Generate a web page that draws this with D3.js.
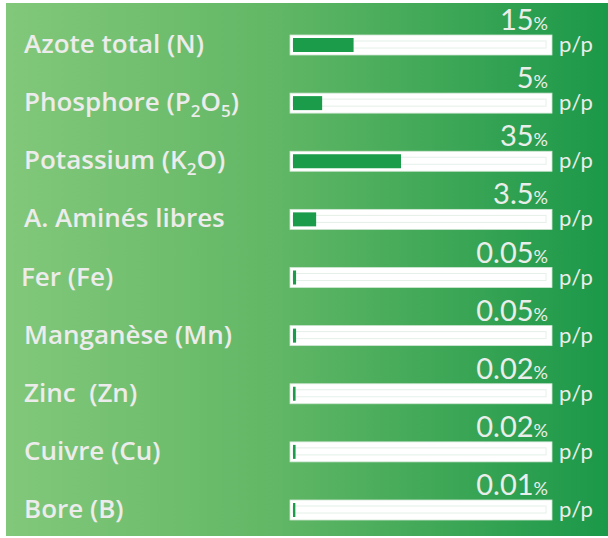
<!DOCTYPE html>
<html>
<head>
<meta charset="utf-8">
<script src="https://cdn.jsdelivr.net/npm/d3@7"></script>
<style>
  body { margin: 0; background: #fff; }
  svg { display: block; }
  text { white-space: pre; }
</style>
</head>
<body>
<svg id="chart" width="608" height="538"></svg>
<script>
// nutrient names, subscripts written as one-item arrays
const labels = [
  ['Azote total (N)'],
  ['Phosphore (P', ['2'], 'O', ['5'], ')'],
  ['Potassium (K', ['2'], 'O)'],
  ['A. Aminés libres'],
  ['Fer (Fe)'],
  ['Manganèse (Mn)'],
  ['Zinc  (Zn)'],
  ['Cuivre (Cu)'],
  ['Bore (B)']
];
const values = [15, 5, 35, 3.5, 0.05, 0.05, 0.02, 0.02, 0.01];
const valueText = ['15', '5', '35', '3.5', '0.05', '0.05', '0.02', '0.02', '0.01'];
const unit = 'p/p';

const svg = d3.select('#chart');
const W = 608;

// background gradient
const defs = svg.append('defs');
const grad = defs.append('linearGradient').attr('id', 'bg').attr('x1', '0%').attr('x2', '100%');
grad.append('stop').attr('offset', '0%').attr('stop-color', '#82c87a');
grad.append('stop').attr('offset', '45%').attr('stop-color', '#61b765');
grad.append('stop').attr('offset', '100%').attr('stop-color', '#1b9849');
svg.append('rect').attr('x', 6).attr('y', 3).attr('width', W - 6).attr('height', 533).attr('fill', 'url(#bg)');

const trackX = 290, trackW = 262, trackH = 20;
const y = d3.scalePoint().domain(d3.range(values.length)).range([35, 500]);
// fill length: the infographic is not linear, a soft power curve fits it best
const x = d3.scalePow().exponent(0.7).domain([0, d3.max(values)]).range([2, 108]);

const rows = svg.selectAll('g.row').data(values).enter().append('g')
  .attr('class', 'row')
  .attr('transform', (d, i) => `translate(0, ${y(i)})`);

// label
rows.append('text')
  .attr('x', (d, i) => i === 4 ? 21 : 24)
  .attr('y', trackH - 2)
  .attr('fill', '#ececec')
  .style('font-family', '"Open Sans", sans-serif')
  .style('font-weight', 600)
  .style('font-size', '26px')
  .each(function(d, i) {
    const t = d3.select(this);
    let shift = 0;
    labels[i].forEach(part => {
      if (Array.isArray(part)) {
        t.append('tspan').attr('dy', 6 - shift).style('font-size', '17px').text(part[0]);
        shift = 6;
      } else {
        t.append('tspan').attr('dy', -shift).text(part);
        shift = 0;
      }
    });
  });

// track
rows.append('rect')
  .attr('x', trackX).attr('y', 0)
  .attr('width', trackW).attr('height', trackH)
  .attr('fill', '#fff')
  .attr('stroke', '#cfe6d3').attr('stroke-width', 0.8);

rows.append('rect')
  .attr('x', trackX + 3).attr('y', 6)
  .attr('width', trackW - 9).attr('height', 7)
  .attr('fill', 'none')
  .attr('stroke', '#e4f0e8').attr('stroke-width', 1);

// fill
rows.append('rect')
  .attr('x', trackX + 3).attr('y', 3)
  .attr('width', d => x(d)).attr('height', trackH - 6)
  .attr('fill', '#1a9c4a');

// value
rows.append('text')
  .attr('x', trackX + 258).attr('y', -5)
  .attr('text-anchor', 'end')
  .attr('fill', '#eaeeeb')
  .style('font-family', 'Lato, sans-serif')
  .each(function(d, i) {
    const t = d3.select(this);
    t.append('tspan').style('font-size', '29px').text(valueText[i]);
    t.append('tspan').style('font-size', '18px').text('%');
  });

// unit
rows.append('text')
  .attr('x', 559).attr('y', trackH - 3)
  .attr('fill', '#eaeeeb')
  .style('font-family', 'Lato, sans-serif')
  .style('font-size', '22px')
  .text(unit);
</script>
</body>
</html>
